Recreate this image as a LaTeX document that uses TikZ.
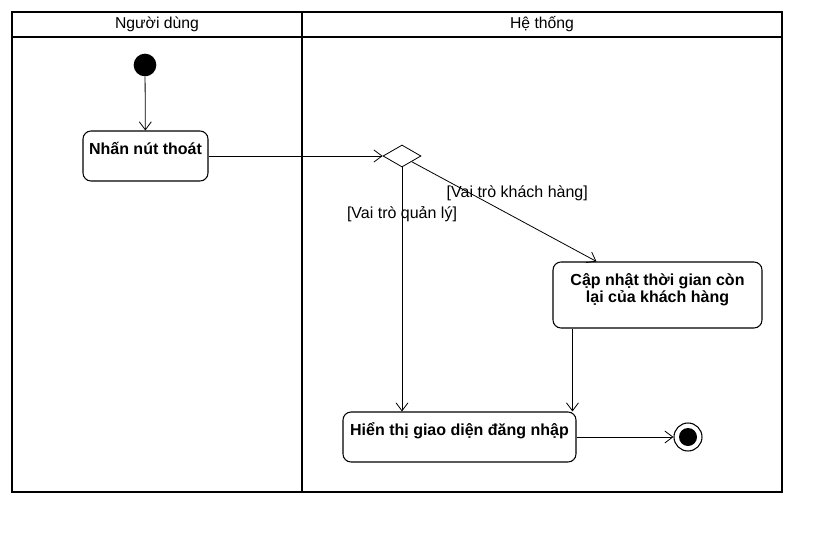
\documentclass[tikz,border=0pt]{standalone}
\usepackage{fontspec}
\setmainfont{Liberation Sans}
\usepackage{tikz}
\usetikzlibrary{arrows.meta,shapes.geometric}

\tikzset{
    lane/.style={line width=1.5pt},
    actbox/.style={draw,rounded corners=6pt,line width=0.8pt,inner sep=0pt},
    acttext/.style={anchor=north,font=\bfseries\fontsize{12}{13}\selectfont,align=center,inner sep=0pt,yshift=-8.5pt},
    guard/.style={font=\fontsize{12}{13}\selectfont,inner sep=1pt},
    flow/.style={-{Straight Barb[length=6pt,width=9pt]},line width=0.6pt},
}

\begin{document}
\begin{tikzpicture}[x=0.75pt,y=-0.75pt]
    \useasboundingbox (0,0) rectangle (833,543);

    % Swimlanes
    \draw[lane] (12,12) rectangle (782,492);
    \draw[lane] (12,37) -- (782,37);
    \draw[line width=2pt] (302,12) -- (302,492);
    \node[font=\fontsize{11.8}{13}\selectfont] (laneuser) at (157,24) {Người dùng};
    \node[font=\fontsize{11.8}{13}\selectfont] (lanesys) at (542,24) {Hệ thống};

    % Start and actions
    \node[circle,fill=black,minimum size=17pt,inner sep=0pt] (start) at (145,65) {};
    \node[actbox,minimum width=93.75pt,minimum height=37.5pt,
          label={[acttext]north:Nhấn nút thoát}] (nhan) at (145.5,156) {};
    \node[draw,diamond,inner sep=0pt,minimum width=28.5pt,minimum height=16.5pt,line width=0.6pt] (dia) at (402,156) {};
    \node[actbox,minimum width=156.75pt,minimum height=49.5pt,
          label={[acttext]north:Cập nhật thời gian còn\\lại của khách hàng}] (capnhat) at (657.5,295) {};
    \node[actbox,minimum width=174.75pt,minimum height=37.5pt,
          label={[acttext]north:Hiển thị giao diện đăng nhập}] (hienthi) at (459.5,437) {};

    % Final state
    \node[circle,draw,line width=0.8pt,minimum size=21pt,inner sep=0pt] (final) at (688,437) {};
    \node[circle,fill=black,minimum size=13.5pt,inner sep=0pt] (finaldot) at (final) {};

    % Flows
    \draw[flow] (start) -- (nhan);
    \draw[flow] (nhan.east) -- (dia.west);
    \draw[flow] (dia.south) -- (dia.south |- hienthi.north)
        node[guard,pos=0.19] {[Vai trò quản lý]};
    \draw[flow] (dia.south east) -- ([xshift=33pt]capnhat.north west)
        node[guard,pos=0.29,xshift=39pt,yshift=-2pt] {[Vai trò khách hàng]};
    \draw[flow] ([xshift=15pt]capnhat.south west) -- ([xshift=15pt]capnhat.south west |- hienthi.north);
    \draw[flow] (hienthi.east) -- (final);
\end{tikzpicture}
\end{document}
